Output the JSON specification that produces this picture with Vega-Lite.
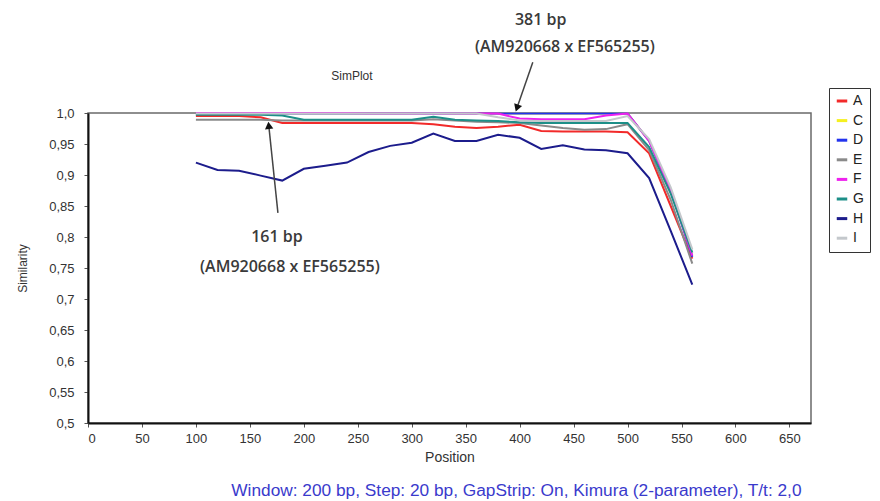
{
  "$schema": "https://vega.github.io/schema/vega-lite/v6.json",
  "width": 723,
  "height": 310,
  "autosize": {"type": "none"},
  "padding": {"left": 88, "top": 113, "right": 69, "bottom": 78},
  "background": "white",
  "config": {
    "font": "Liberation Sans",
    "locale": {"number": {"decimal": ",", "thousands": ".", "grouping": [3], "currency": ["", " €"]}},
    "view": {"stroke": "#6a6a6a", "strokeWidth": 1.5},
    "axis": {
      "grid": false,
      "domainColor": "#111",
      "domainWidth": 2,
      "tickColor": "#555",
      "tickSize": 4,
      "labelColor": "#333",
      "labelFont": "Liberation Sans",
      "labelFontSize": 13,
      "titleFont": "Liberation Sans",
      "titleFontWeight": "normal",
      "titleColor": "#333"
    }
  },
  "datasets": {
    "sim": [
      {"s":"A","p":100,"v":0.995},{"s":"A","p":120,"v":0.995},{"s":"A","p":140,"v":0.995},{"s":"A","p":160,"v":0.993},{"s":"A","p":180,"v":0.984},{"s":"A","p":200,"v":0.984},{"s":"A","p":220,"v":0.984},{"s":"A","p":240,"v":0.984},{"s":"A","p":260,"v":0.984},{"s":"A","p":280,"v":0.984},{"s":"A","p":300,"v":0.984},{"s":"A","p":320,"v":0.982},{"s":"A","p":340,"v":0.978},{"s":"A","p":360,"v":0.976},{"s":"A","p":380,"v":0.978},{"s":"A","p":400,"v":0.981},{"s":"A","p":420,"v":0.971},{"s":"A","p":440,"v":0.970},{"s":"A","p":460,"v":0.970},{"s":"A","p":480,"v":0.970},{"s":"A","p":500,"v":0.969},{"s":"A","p":520,"v":0.935},{"s":"A","p":540,"v":0.85},{"s":"A","p":560,"v":0.765},
      {"s":"C","p":100,"v":0.999},{"s":"C","p":120,"v":0.999},{"s":"C","p":140,"v":0.999},{"s":"C","p":160,"v":0.999},{"s":"C","p":180,"v":0.999},{"s":"C","p":200,"v":0.999},{"s":"C","p":220,"v":0.999},{"s":"C","p":240,"v":0.999},{"s":"C","p":260,"v":0.999},{"s":"C","p":280,"v":0.999},{"s":"C","p":300,"v":0.999},{"s":"C","p":320,"v":0.999},{"s":"C","p":340,"v":0.999},{"s":"C","p":360,"v":0.999},{"s":"C","p":380,"v":0.999},{"s":"C","p":400,"v":0.999},{"s":"C","p":420,"v":0.999},{"s":"C","p":440,"v":0.999},{"s":"C","p":460,"v":0.999},{"s":"C","p":480,"v":0.999},{"s":"C","p":500,"v":0.999},{"s":"C","p":520,"v":0.955},{"s":"C","p":540,"v":0.875},{"s":"C","p":560,"v":0.77},
      {"s":"D","p":100,"v":0.999},{"s":"D","p":120,"v":0.999},{"s":"D","p":140,"v":0.999},{"s":"D","p":160,"v":0.999},{"s":"D","p":180,"v":0.999},{"s":"D","p":200,"v":0.999},{"s":"D","p":220,"v":0.999},{"s":"D","p":240,"v":0.999},{"s":"D","p":260,"v":0.999},{"s":"D","p":280,"v":0.999},{"s":"D","p":300,"v":0.999},{"s":"D","p":320,"v":0.999},{"s":"D","p":340,"v":0.999},{"s":"D","p":360,"v":0.999},{"s":"D","p":380,"v":0.999},{"s":"D","p":400,"v":0.999},{"s":"D","p":420,"v":0.999},{"s":"D","p":440,"v":0.999},{"s":"D","p":460,"v":0.999},{"s":"D","p":480,"v":0.999},{"s":"D","p":500,"v":0.999},{"s":"D","p":520,"v":0.955},{"s":"D","p":540,"v":0.875},{"s":"D","p":560,"v":0.768},
      {"s":"E","p":100,"v":0.989},{"s":"E","p":120,"v":0.989},{"s":"E","p":140,"v":0.989},{"s":"E","p":160,"v":0.989},{"s":"E","p":180,"v":0.988},{"s":"E","p":200,"v":0.988},{"s":"E","p":220,"v":0.988},{"s":"E","p":240,"v":0.988},{"s":"E","p":260,"v":0.988},{"s":"E","p":280,"v":0.988},{"s":"E","p":300,"v":0.988},{"s":"E","p":320,"v":0.990},{"s":"E","p":340,"v":0.988},{"s":"E","p":360,"v":0.986},{"s":"E","p":380,"v":0.985},{"s":"E","p":400,"v":0.984},{"s":"E","p":420,"v":0.980},{"s":"E","p":440,"v":0.976},{"s":"E","p":460,"v":0.973},{"s":"E","p":480,"v":0.974},{"s":"E","p":500,"v":0.982},{"s":"E","p":520,"v":0.94},{"s":"E","p":540,"v":0.86},{"s":"E","p":560,"v":0.757},
      {"s":"F","p":100,"v":1.0},{"s":"F","p":120,"v":1.0},{"s":"F","p":140,"v":1.0},{"s":"F","p":160,"v":1.0},{"s":"F","p":180,"v":1.0},{"s":"F","p":200,"v":1.0},{"s":"F","p":220,"v":1.0},{"s":"F","p":240,"v":1.0},{"s":"F","p":260,"v":0.999},{"s":"F","p":280,"v":0.999},{"s":"F","p":300,"v":0.999},{"s":"F","p":320,"v":0.999},{"s":"F","p":340,"v":0.999},{"s":"F","p":360,"v":0.999},{"s":"F","p":380,"v":0.999},{"s":"F","p":400,"v":0.991},{"s":"F","p":420,"v":0.990},{"s":"F","p":440,"v":0.990},{"s":"F","p":460,"v":0.990},{"s":"F","p":480,"v":0.996},{"s":"F","p":500,"v":0.999},{"s":"F","p":520,"v":0.955},{"s":"F","p":540,"v":0.875},{"s":"F","p":560,"v":0.77},
      {"s":"G","p":100,"v":0.997},{"s":"G","p":120,"v":0.997},{"s":"G","p":140,"v":0.997},{"s":"G","p":160,"v":0.997},{"s":"G","p":180,"v":0.996},{"s":"G","p":200,"v":0.989},{"s":"G","p":220,"v":0.989},{"s":"G","p":240,"v":0.989},{"s":"G","p":260,"v":0.989},{"s":"G","p":280,"v":0.989},{"s":"G","p":300,"v":0.989},{"s":"G","p":320,"v":0.994},{"s":"G","p":340,"v":0.989},{"s":"G","p":360,"v":0.988},{"s":"G","p":380,"v":0.987},{"s":"G","p":400,"v":0.985},{"s":"G","p":420,"v":0.984},{"s":"G","p":440,"v":0.984},{"s":"G","p":460,"v":0.984},{"s":"G","p":480,"v":0.984},{"s":"G","p":500,"v":0.984},{"s":"G","p":520,"v":0.945},{"s":"G","p":540,"v":0.87},{"s":"G","p":560,"v":0.775},
      {"s":"H","p":100,"v":0.920},{"s":"H","p":120,"v":0.908},{"s":"H","p":140,"v":0.907},{"s":"H","p":160,"v":0.899},{"s":"H","p":180,"v":0.891},{"s":"H","p":200,"v":0.910},{"s":"H","p":220,"v":0.915},{"s":"H","p":240,"v":0.920},{"s":"H","p":260,"v":0.937},{"s":"H","p":280,"v":0.947},{"s":"H","p":300,"v":0.952},{"s":"H","p":320,"v":0.967},{"s":"H","p":340,"v":0.955},{"s":"H","p":360,"v":0.955},{"s":"H","p":380,"v":0.965},{"s":"H","p":400,"v":0.960},{"s":"H","p":420,"v":0.942},{"s":"H","p":440,"v":0.948},{"s":"H","p":460,"v":0.941},{"s":"H","p":480,"v":0.940},{"s":"H","p":500,"v":0.935},{"s":"H","p":520,"v":0.895},{"s":"H","p":540,"v":0.81},{"s":"H","p":560,"v":0.723},
      {"s":"I","p":100,"v":0.999},{"s":"I","p":120,"v":0.999},{"s":"I","p":140,"v":0.999},{"s":"I","p":160,"v":0.999},{"s":"I","p":180,"v":0.999},{"s":"I","p":200,"v":0.999},{"s":"I","p":220,"v":0.999},{"s":"I","p":240,"v":0.999},{"s":"I","p":260,"v":0.999},{"s":"I","p":280,"v":0.999},{"s":"I","p":300,"v":0.999},{"s":"I","p":320,"v":0.999},{"s":"I","p":340,"v":0.999},{"s":"I","p":360,"v":0.999},{"s":"I","p":380,"v":0.993},{"s":"I","p":400,"v":0.988},{"s":"I","p":420,"v":0.987},{"s":"I","p":440,"v":0.987},{"s":"I","p":460,"v":0.987},{"s":"I","p":480,"v":0.987},{"s":"I","p":500,"v":0.995},{"s":"I","p":520,"v":0.958},{"s":"I","p":540,"v":0.88},{"s":"I","p":560,"v":0.78}
    ],
    "arrows": [
      {"id":"a1","p":412.2,"v":1.082,"p2":397.5,"v2":1.008},
      {"id":"a2","p":176,"v":0.839,"p2":167.5,"v2":0.980}
    ],
    "notes": [
      {"kind":"ann","p":419.5,"v":1.15,"t":"381 bp"},
      {"kind":"ann","p":441.9,"v":1.106,"t":"(AM920668 x EF565255)"},
      {"kind":"ann","p":175.1,"v":0.80,"t":"161 bp"},
      {"kind":"ann","p":187.1,"v":0.752,"t":"(AM920668 x EF565255)"},
      {"kind":"title","p":244.6,"v":1.06,"t":"SimPlot"},
      {"kind":"foot","p":397,"v":0.39,"t":"Window: 200 bp, Step: 20 bp, GapStrip: On, Kimura (2-parameter), T/t: 2,0"}
    ]
  },
  "layer": [
    {
      "data": {"name": "sim"},
      "mark": {"type": "line", "strokeWidth": 2},
      "encoding": {
        "x": {
          "field": "p", "type": "quantitative",
          "scale": {"domain": [0, 670], "nice": false, "zero": false},
          "axis": {"title": "Position", "values": [0,50,100,150,200,250,300,350,400,450,500,550,600,650], "tickCount": 30, "labelPadding": 5, "titlePadding": 5, "titleFontSize": 14}
        },
        "y": {
          "field": "v", "type": "quantitative",
          "scale": {"domain": [0.5, 1.0], "nice": false, "zero": false},
          "axis": {"title": "Similarity", "values": [0.5,0.55,0.6,0.65,0.7,0.75,0.8,0.85,0.9,0.95,1.0], "tickCount": 20, "format": ".2~f", "labelOverlap": false, "labelFlush": false, "labelExpr": "datum.value == 1 ? '1,0' : datum.label", "labelPadding": 10, "titlePadding": 19, "titleFontSize": 12}
        },
        "color": {
          "field": "s", "type": "nominal",
          "scale": {"domain": ["A","C","D","E","F","G","H","I"], "range": ["#f22a2a","#f5f020","#2233ee","#8a8a8a","#ee22ee","#1d8f88","#1c1c8c","#c4c8cc"]},
          "legend": {
            "title": null, "orient": "none", "legendX": 741, "legendY": -25,
            "strokeColor": "#333", "fillColor": "white", "padding": 6,
            "symbolType": "stroke", "symbolStrokeWidth": 3, "symbolSize": 110,
            "labelFontSize": 14, "labelColor": "#222", "rowPadding": 5.6, "labelOffset": 4
          }
        }
      }
    },
    {
      "data": {"name": "arrows"},
      "mark": {"type": "rule", "color": "#444", "strokeWidth": 1.5},
      "encoding": {
        "x": {"field": "p", "type": "quantitative"},
        "y": {"field": "v", "type": "quantitative"},
        "x2": {"field": "p2"},
        "y2": {"field": "v2"}
      }
    },
    {
      "data": {"name": "arrows"},
      "transform": [{"filter": "datum.id == 'a1'"}],
      "mark": {"type": "point", "shape": "triangle-up", "filled": true, "color": "#111", "size": 70, "angle": 199.5, "opacity": 1},
      "encoding": {
        "x": {"field": "p2", "type": "quantitative"},
        "y": {"field": "v2", "type": "quantitative"}
      }
    },
    {
      "data": {"name": "arrows"},
      "transform": [{"filter": "datum.id == 'a2'"}],
      "mark": {"type": "point", "shape": "triangle-up", "filled": true, "color": "#111", "size": 70, "angle": 353.7, "opacity": 1},
      "encoding": {
        "x": {"field": "p2", "type": "quantitative"},
        "y": {"field": "v2", "type": "quantitative"}
      }
    },
    {
      "data": {"name": "notes"},
      "transform": [{"filter": "datum.kind == 'ann'"}],
      "mark": {"type": "text", "font": "Open Sans", "fontSize": 16, "fontWeight": 600, "color": "#3a3a3a"},
      "encoding": {
        "x": {"field": "p", "type": "quantitative"},
        "y": {"field": "v", "type": "quantitative"},
        "text": {"field": "t"}
      }
    },
    {
      "data": {"name": "notes"},
      "transform": [{"filter": "datum.kind == 'title'"}],
      "mark": {"type": "text", "font": "Liberation Sans", "fontSize": 12, "color": "#333"},
      "encoding": {
        "x": {"field": "p", "type": "quantitative"},
        "y": {"field": "v", "type": "quantitative"},
        "text": {"field": "t"}
      }
    },
    {
      "data": {"name": "notes"},
      "transform": [{"filter": "datum.kind == 'foot'"}],
      "mark": {"type": "text", "font": "Liberation Sans", "fontSize": 17.3, "color": "#3a3acc"},
      "encoding": {
        "x": {"field": "p", "type": "quantitative"},
        "y": {"field": "v", "type": "quantitative"},
        "text": {"field": "t"}
      }
    }
  ]
}
